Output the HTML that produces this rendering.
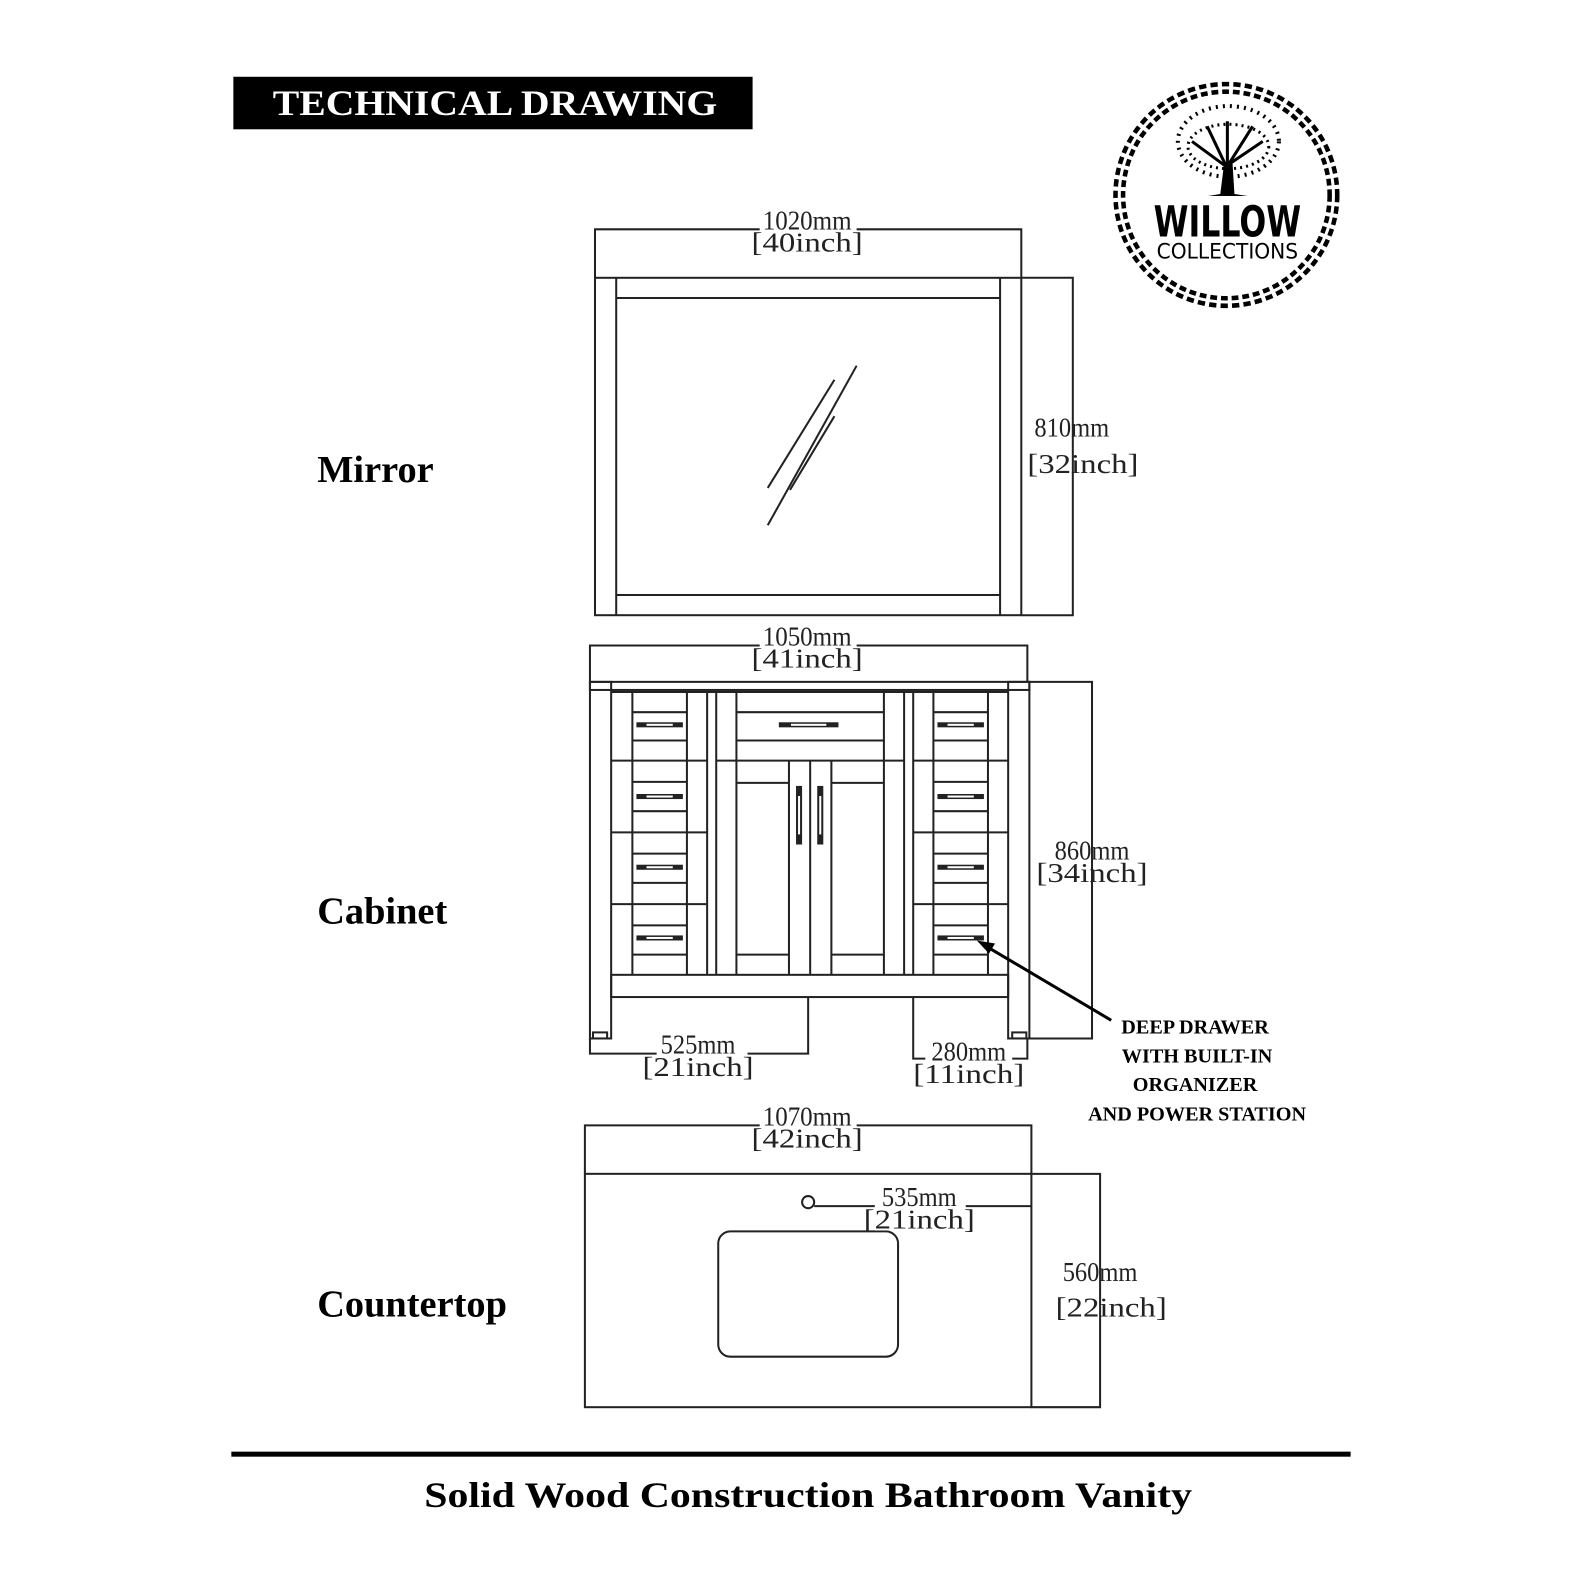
<!DOCTYPE html>
<html><head><meta charset="utf-8"><style>
html,body{margin:0;padding:0;background:#fff}
svg{display:block}
.d{font-family:"Liberation Serif",serif;font-size:27px;fill:#222}
.l{font-family:"Liberation Serif",serif;font-weight:bold;font-size:38px;fill:#000}
.n{font-family:"Liberation Serif",serif;font-weight:bold;font-size:20px;fill:#000}
</style></head><body>
<svg width="1587" height="1587" viewBox="0 0 1571 1571" xmlns="http://www.w3.org/2000/svg">
<g fill="none" stroke="#222" stroke-width="2">
<!-- Mirror -->
<rect x="589" y="275" width="422" height="334"/>
<line x1="610" y1="275" x2="610" y2="609"/><line x1="990" y1="275" x2="990" y2="609"/>
<line x1="610" y1="295" x2="990" y2="295"/><line x1="610" y1="589" x2="990" y2="589"/>
<line x1="760" y1="483" x2="826" y2="376"/><line x1="760" y1="520" x2="848" y2="362"/><line x1="782" y1="485" x2="826" y2="412"/>
<polyline points="589,275 589,227 1011,227 1011,275"/>
<polyline points="1011,275 1062,275 1062,609 1011,609"/>
<!-- Cabinet -->
<polyline points="584,675 584,639 1017,639 1017,675"/>
<rect x="584" y="675" width="435" height="8"/>
<rect x="584" y="675" width="21" height="353"/><rect x="998" y="675" width="21" height="353"/>
<rect x="587" y="1022" width="14" height="6"/><rect x="1002" y="1022" width="14" height="6"/>
<line x1="605" y1="685" x2="998" y2="685"/>
<rect x="605" y="965" width="393" height="22"/>
<!-- left drawers -->
<line x1="626" y1="685" x2="626" y2="965"/><line x1="680" y1="685" x2="680" y2="965"/><line x1="700" y1="685" x2="700" y2="965"/>
<line x1="605" y1="753" x2="700" y2="753"/><line x1="605" y1="824" x2="700" y2="824"/><line x1="605" y1="895" x2="700" y2="895"/>
<!-- right drawers -->
<line x1="904" y1="685" x2="904" y2="965"/><line x1="924" y1="685" x2="924" y2="965"/><line x1="978" y1="685" x2="978" y2="965"/>
<line x1="904" y1="753" x2="998" y2="753"/><line x1="904" y1="824" x2="998" y2="824"/><line x1="904" y1="895" x2="998" y2="895"/>
<g>
<line x1="626" y1="705" x2="680" y2="705"/><line x1="626" y1="733" x2="680" y2="733"/>
<line x1="626" y1="774" x2="680" y2="774"/><line x1="626" y1="803" x2="680" y2="803"/>
<line x1="626" y1="845" x2="680" y2="845"/><line x1="626" y1="874" x2="680" y2="874"/>
<line x1="626" y1="916" x2="680" y2="916"/><line x1="626" y1="945" x2="680" y2="945"/>
<line x1="924" y1="705" x2="978" y2="705"/><line x1="924" y1="733" x2="978" y2="733"/>
<line x1="924" y1="774" x2="978" y2="774"/><line x1="924" y1="803" x2="978" y2="803"/>
<line x1="924" y1="845" x2="978" y2="845"/><line x1="924" y1="874" x2="978" y2="874"/>
<line x1="924" y1="916" x2="978" y2="916"/><line x1="924" y1="945" x2="978" y2="945"/>
</g>
<!-- center -->
<line x1="709" y1="685" x2="709" y2="965"/><line x1="729" y1="685" x2="729" y2="965"/>
<line x1="875" y1="685" x2="875" y2="965"/><line x1="895" y1="685" x2="895" y2="965"/>
<line x1="729" y1="705" x2="875" y2="705"/><line x1="729" y1="733" x2="875" y2="733"/>
<line x1="709" y1="753" x2="895" y2="753"/>
<line x1="781" y1="753" x2="781" y2="965"/><line x1="802" y1="753" x2="802" y2="965"/><line x1="823" y1="753" x2="823" y2="965"/>
<line x1="729" y1="775" x2="781" y2="775"/><line x1="729" y1="945" x2="781" y2="945"/>
<line x1="823" y1="775" x2="875" y2="775"/><line x1="823" y1="945" x2="875" y2="945"/>
<!-- dims -->
<polyline points="1019,675 1081,675 1081,1028 1019,1028"/>
<polyline points="584,1028 584,1043 800,1043 800,987"/>
<polyline points="904,987 904,1048 1017,1048 1017,1028"/>
<!-- countertop -->
<rect x="579" y="1162" width="442" height="231"/>
<polyline points="579,1162 579,1114 1021,1114 1021,1162"/>
<polyline points="1021,1162 1089,1162 1089,1393 1021,1393"/>
<rect x="711" y="1219" width="178" height="124" rx="12"/>
<circle cx="800" cy="1190" r="6"/>
<line x1="806" y1="1194" x2="1021" y2="1194"/>
</g>
<!-- handles -->
<g fill="#222">
<rect x="630" y="715" width="46" height="5"/><rect x="630" y="786" width="46" height="5"/><rect x="630" y="856" width="46" height="5"/><rect x="630" y="926" width="46" height="5"/>
<rect x="928" y="715" width="46" height="5"/><rect x="928" y="786" width="46" height="5"/><rect x="928" y="856" width="46" height="5"/><rect x="928" y="926" width="46" height="5"/>
<rect x="771" y="715" width="59" height="5"/>
<rect x="788" y="778" width="6" height="58"/><rect x="809" y="778" width="6" height="58"/>
</g>
<g fill="#fff"><rect x="640" y="716.5" width="26" height="2"/><rect x="640" y="787.5" width="26" height="2"/><rect x="640" y="857.5" width="26" height="2"/><rect x="640" y="927.5" width="26" height="2"/>
<rect x="938" y="716.5" width="26" height="2"/><rect x="938" y="787.5" width="26" height="2"/><rect x="938" y="857.5" width="26" height="2"/><rect x="938" y="927.5" width="26" height="2"/>
<rect x="783" y="716.5" width="35" height="2"/><rect x="790" y="788" width="2" height="38"/><rect x="811" y="788" width="2" height="38"/></g>
<!-- arrow -->
<line x1="1100" y1="1010" x2="975" y2="936" stroke="#000" stroke-width="3"/>
<polygon points="967,931 985,934 979,944" fill="#000"/>
<!-- dim text -->
<g class="d" text-anchor="middle">
<rect x="752" y="206" width="96" height="46" fill="#fff"/>
<text x="799" y="227" textLength="88" lengthAdjust="spacingAndGlyphs">1020mm</text>
<text x="799" y="249" textLength="110" lengthAdjust="spacingAndGlyphs">[40inch]</text>
<text x="1061" y="432" textLength="74" lengthAdjust="spacingAndGlyphs">810mm</text>
<text x="1072" y="468" textLength="110" lengthAdjust="spacingAndGlyphs">[32inch]</text>
<rect x="752" y="618" width="96" height="46" fill="#fff"/>
<text x="799" y="639" textLength="88" lengthAdjust="spacingAndGlyphs">1050mm</text>
<text x="799" y="661" textLength="110" lengthAdjust="spacingAndGlyphs">[41inch]</text>
<text x="1081" y="851" textLength="74" lengthAdjust="spacingAndGlyphs">860mm</text>
<text x="1081" y="873" textLength="110" lengthAdjust="spacingAndGlyphs">[34inch]</text>
<rect x="650" y="1025" width="90" height="42" fill="#fff"/>
<text x="691" y="1043" textLength="74" lengthAdjust="spacingAndGlyphs">525mm</text>
<text x="691" y="1065" textLength="110" lengthAdjust="spacingAndGlyphs">[21inch]</text>
<rect x="916" y="1030" width="86" height="44" fill="#fff"/>
<text x="959" y="1050" textLength="74" lengthAdjust="spacingAndGlyphs">280mm</text>
<text x="959" y="1072" textLength="110" lengthAdjust="spacingAndGlyphs">[11inch]</text>
<rect x="752" y="1093" width="96" height="46" fill="#fff"/>
<text x="799" y="1114" textLength="88" lengthAdjust="spacingAndGlyphs">1070mm</text>
<text x="799" y="1136" textLength="110" lengthAdjust="spacingAndGlyphs">[42inch]</text>
<rect x="866" y="1176" width="90" height="42" fill="#fff"/>
<text x="910" y="1194" textLength="74" lengthAdjust="spacingAndGlyphs">535mm</text>
<text x="910" y="1216" textLength="110" lengthAdjust="spacingAndGlyphs">[21inch]</text>
<text x="1089" y="1268" textLength="74" lengthAdjust="spacingAndGlyphs">560mm</text>
<text x="1100" y="1303" textLength="110" lengthAdjust="spacingAndGlyphs">[22inch]</text>
</g>
<!-- labels -->
<text class="l" x="314" y="477">Mirror</text>
<text class="l" x="314" y="914">Cabinet</text>
<text class="l" x="314" y="1303">Countertop</text>
<g class="n" text-anchor="middle">
<text x="1183" y="1023">DEEP DRAWER</text>
<text x="1185" y="1052">WITH BUILT-IN</text>
<text x="1183" y="1080">ORGANIZER</text>
<text x="1185" y="1109">AND POWER STATION</text>
</g>
<!-- title -->
<rect x="231" y="76" width="514" height="52" fill="#000"/>
<text x="490" y="114" text-anchor="middle" fill="#fff" style="font-family:'Liberation Serif',serif;font-weight:bold;font-size:36px" textLength="440" lengthAdjust="spacingAndGlyphs">TECHNICAL DRAWING</text>
<!-- footer -->
<rect x="229" y="1437" width="1108" height="5" fill="#000"/>
<text x="800" y="1492" text-anchor="middle" style="font-family:'Liberation Serif',serif;font-weight:bold;font-size:36px" textLength="760" lengthAdjust="spacingAndGlyphs">Solid Wood Construction Bathroom Vanity</text>
<!-- logo -->
<circle cx="1214" cy="193" r="106" fill="none" stroke="#000" stroke-width="12" stroke-dasharray="7 4"/>
<circle cx="1214" cy="193" r="106" fill="none" stroke="#fff" stroke-width="3"/>
<g fill="#000">
<path d="M1208 192 L1212 160 L1220 160 L1222 192 L1235 194 L1196 194 Z"/>
<path d="M1214 165 L1180 140 M1216 163 L1250 140 M1215 160 L1215 120 M1214 165 L1195 125 M1216 163 L1240 125" stroke="#000" stroke-width="3" fill="none"/>
<ellipse cx="1216" cy="140" rx="50" ry="35" fill="none" stroke="#000" stroke-width="4" stroke-dasharray="2 5"/>
<ellipse cx="1216" cy="145" rx="40" ry="22" fill="none" stroke="#000" stroke-width="3" stroke-dasharray="2 4"/>
</g>
<text x="1215" y="234" text-anchor="middle" style="font-family:'DejaVu Sans',sans-serif;font-weight:bold;font-size:42px" textLength="146" lengthAdjust="spacingAndGlyphs">WILLOW</text>
<text x="1215" y="256" text-anchor="middle" style="font-family:'DejaVu Sans',sans-serif;font-size:21px" textLength="140" lengthAdjust="spacingAndGlyphs">COLLECTIONS</text>
</svg>
</body></html>
